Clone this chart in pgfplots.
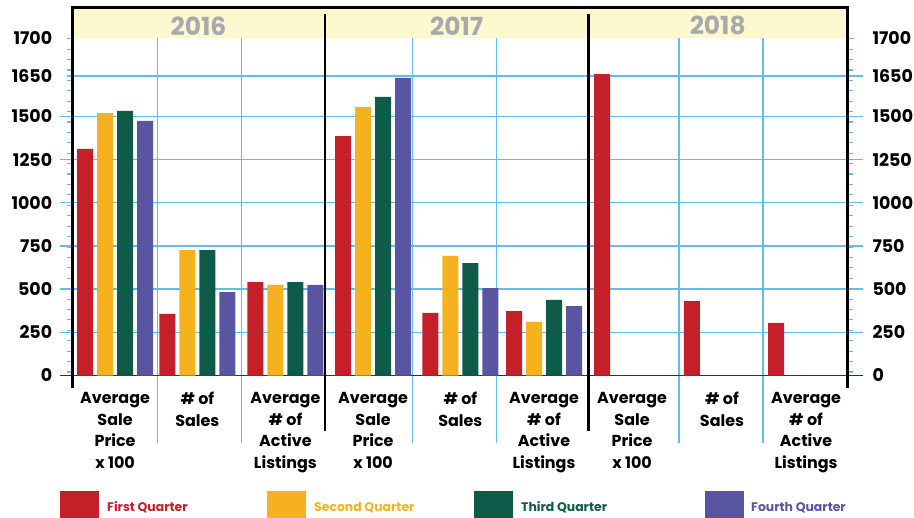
\documentclass[border=0pt]{standalone}
\usepackage{fontspec}
\setmainfont{Poppins}
\usepackage{pgfplots}
\pgfplotsset{compat=1.18}
\definecolor{qone}{RGB}{197,32,42}
\definecolor{qtwo}{RGB}{245,178,30}
\definecolor{qthree}{RGB}{14,91,74}
\definecolor{qfour}{RGB}{90,85,163}
\definecolor{gridblue}{RGB}{95,190,235}
\definecolor{band}{RGB}{252,248,208}
\definecolor{yeargray}{RGB}{167,169,172}

\begin{document}
\begin{tikzpicture}
\useasboundingbox (-72.7bp,-142.5bp) rectangle (841.3bp,375.5bp);
\begin{axis}[
  scale only axis, width=774.3bp, height=367.5bp,
  xmin=-0.49, xmax=8.472, ymin=0, ymax=2127,
  axis line style={draw=none},
  clip=false,
  ybar=4bp, bar width=16bp,
  xtick={0,0.953,1.972,2.986,3.997,4.965,5.984,7.025,7.998},
  xticklabels={{Average\\Sale\\Price\\x 100},{\# of\\Sales},{Average\\\# of\\Active\\Listings},
               {Average\\Sale\\Price\\x 100},{\# of\\Sales},{Average\\\# of\\Active\\Listings},
               {Average\\Sale\\Price\\x 100},{\# of\\Sales},{Average\\\# of\\Active\\Listings}},
  xtick style={draw=none},
  xticklabel style={align=center, anchor=north, font=\fontsize{16}{21.7}\selectfont\bfseries, yshift=-9bp},
  ytick=\empty,
]
% year band
\fill[band] (axis cs:-0.49,1951) rectangle (axis cs:8.472,2127);
\node[text=yeargray, font=\fontsize{25}{30}\selectfont\bfseries] at (axis cs:0.965,2024) {2016};
\node[text=yeargray, font=\fontsize{25}{30}\selectfont\bfseries] at (axis cs:3.955,2024) {2017};
\node[text=yeargray, font=\fontsize{25}{30}\selectfont\bfseries] at (axis cs:6.976,2024) {2018};

% grid
\pgfplotsinvokeforeach{250,500,750,1000,1250,1500}{
  \draw[gridblue, line width=1.3bp] (axis cs:-0.637,#1) -- (axis cs:8.657,#1);
}
\draw[gridblue, line width=1.3bp] (axis cs:-0.49,1733) -- (axis cs:8.657,1733);
\draw[gridblue, line width=1.3bp] (axis cs:-0.556,1733) -- (axis cs:-0.49,1733);
\draw[gridblue, line width=1.3bp] (axis cs:-0.556,1951) -- (axis cs:-0.49,1951);
\draw[gridblue, line width=1.3bp] (axis cs:8.472,1951) -- (axis cs:8.553,1951);
\pgfplotsinvokeforeach{0.494,1.466,3.441,4.413,6.528,7.500}{
  \draw[gridblue, line width=1.2bp] (axis cs:#1,1951) -- (axis cs:#1,-391);
}
% minor ticks, every ~60 units on both sides
\pgfplotsinvokeforeach{20,80,141,201,261,322,382,442,502,563,623,683,744,804,864,924,985,1045,1105,1166,1226,1286,1346,1407,1467,1527,1588,1648,1708,1768,1829,1889}{
  \draw[gridblue, line width=1.1bp] (axis cs:-0.49,#1) -- (axis cs:-0.559,#1);
  \draw[gridblue, line width=1.1bp] (axis cs:8.472,#1) -- (axis cs:8.541,#1);
}
\draw[black!80, line width=1.5bp] (axis cs:-0.637,0) -- (axis cs:8.657,0);

% bars
\addplot[fill=qone, draw=none] coordinates {(0,1311) (0.953,356) (1.972,541) (2.986,1386) (3.997,362) (4.965,373) (5.984,1745) (7.025,431) (7.998,304)};
\addplot[fill=qtwo, draw=none] coordinates {(0,1519) (0.953,726) (1.972,524) (2.986,1554) (3.997,692) (4.965,310)};
\addplot[fill=qthree, draw=none] coordinates {(0,1531) (0.953,726) (1.972,541) (2.986,1612) (3.997,651) (4.965,437)};
\addplot[fill=qfour, draw=none] coordinates {(0,1473) (0.953,483) (1.972,524) (2.986,1722) (3.997,506) (4.965,402)};

% frame and year separators
\draw[black, line width=3bp] (axis cs:-0.49,-72) -- (axis cs:-0.49,2127) -- (axis cs:8.472,2127) -- (axis cs:8.472,-72);
\draw[black, line width=2.5bp] (axis cs:2.431,2092) -- (axis cs:2.431,-321);
\draw[black, line width=2.5bp] (axis cs:5.478,2092) -- (axis cs:5.478,-321);

% y labels both sides
\pgfplotsinvokeforeach{0,250,500,750,1000,1250,1500}{
  \node[anchor=east, font=\fontsize{17.5}{20}\selectfont\bfseries] at (axis cs:-0.49,#1) [xshift=-17bp] {#1};
  \node[anchor=west, font=\fontsize{17.5}{20}\selectfont\bfseries] at (axis cs:8.472,#1) [xshift=22bp] {#1};
}
\node[anchor=east, font=\fontsize{17.5}{20}\selectfont\bfseries] at (axis cs:-0.49,1733) [xshift=-17bp] {1650};
\node[anchor=west, font=\fontsize{17.5}{20}\selectfont\bfseries] at (axis cs:8.472,1733) [xshift=22bp] {1650};
\node[anchor=east, font=\fontsize{17.5}{20}\selectfont\bfseries] at (axis cs:-0.49,1951) [xshift=-17bp] {1700};
\node[anchor=west, font=\fontsize{17.5}{20}\selectfont\bfseries] at (axis cs:8.472,1951) [xshift=22bp] {1700};
\end{axis}

% legend
\fill[qone] (-12.7bp,-115.5bp) rectangle (26.3bp,-142.5bp);
\node[anchor=west, text=qone, font=\fontsize{12.5}{15}\selectfont\bfseries, inner sep=0] at (34.3bp,-132bp) {First Quarter};
\fill[qtwo] (194.3bp,-115.5bp) rectangle (233.3bp,-142.5bp);
\node[anchor=west, text=qtwo, font=\fontsize{12.5}{15}\selectfont\bfseries, inner sep=0] at (241.3bp,-132bp) {Second Quarter};
\fill[qthree] (401.3bp,-115.5bp) rectangle (440.3bp,-142.5bp);
\node[anchor=west, text=qthree, font=\fontsize{12.5}{15}\selectfont\bfseries, inner sep=0] at (448.3bp,-132bp) {Third Quarter};
\fill[qfour] (632.3bp,-115.5bp) rectangle (671.3bp,-142.5bp);
\node[anchor=west, text=qfour, font=\fontsize{12.5}{15}\selectfont\bfseries, inner sep=0] at (678.3bp,-132bp) {Fourth Quarter};
\end{tikzpicture}
\end{document}
